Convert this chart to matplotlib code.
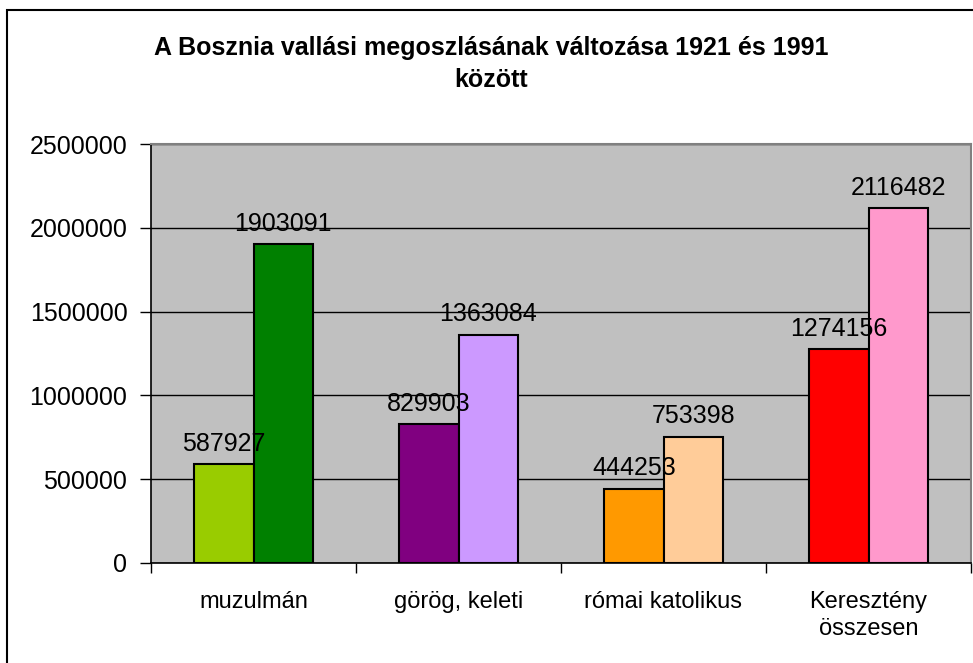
import matplotlib
matplotlib.use('Agg')
import matplotlib.pyplot as plt
from matplotlib.patches import Rectangle
import numpy as np

plt.rcParams['font.family'] = ['Liberation Sans', 'DejaVu Sans']

categories = ['muzulmán', 'görög, keleti', 'római katolikus', 'Keresztény\nösszesen']
values_1921 = [587927, 829903, 444253, 1274156]
values_1991 = [1903091, 1363084, 753398, 2116482]
colors_1921 = ['#99CC00', '#800080', '#FF9900', '#FF0000']
colors_1991 = ['#008000', '#CC99FF', '#FFCC99', '#FF99CC']
title = 'A Bosznia vallási megoszlásának változása 1921 és 1991\nközött'

fig = plt.figure(figsize=(9.73, 6.63), dpi=100)
ax = fig.add_axes([151 / 973, 1 - 563 / 663, (971 - 151) / 973, (563 - 144) / 663])
ax.set_facecolor('#C0C0C0')

x = np.arange(len(categories))
w = 0.29
b1 = ax.bar(x - w / 2, values_1921, w, color=colors_1921, edgecolor='black',
            linewidth=1.5, zorder=3)
b2 = ax.bar(x + w / 2, values_1991, w, color=colors_1991, edgecolor='black',
            linewidth=1.5, zorder=3)

# value labels above each bar
for bars, vals in ((b1, values_1921), (b2, values_1991)):
    for r, v in zip(bars, vals):
        ax.annotate('%d' % v, (r.get_x() + r.get_width() / 2, v),
                    xytext=(0, 6), textcoords='offset points',
                    ha='center', va='bottom', fontsize=18, zorder=4)

ax.set_xlim(-0.5, len(categories) - 0.5)
ax.set_ylim(0, 2500000)
ax.set_yticks(np.arange(0, 2500001, 500000))
ax.set_yticklabels(['%d' % v for v in np.arange(0, 2500001, 500000)], fontsize=18)
ax.yaxis.grid(True, color='black', linewidth=1.0, zorder=1)
ax.set_axisbelow(True)

ax.set_xticks(x)
ax.set_xticklabels(categories, fontsize=17, va='top', linespacing=1.3)
ax.tick_params(axis='x', which='major', length=0, pad=20)
ax.set_xticks(np.arange(-0.5, len(categories)), minor=True)
ax.tick_params(axis='x', which='minor', length=7, width=1, direction='out')
ax.tick_params(axis='y', length=8, width=1, direction='out', pad=9)

for s in ('top', 'right'):
    ax.spines[s].set_color('#808080')
    ax.spines[s].set_linewidth(1.5)
for s in ('left', 'bottom'):
    ax.spines[s].set_color('black')
    ax.spines[s].set_linewidth(1.2)

fig.text(0.505, 1 - 64 / 663, title, ha='center', va='center', fontsize=18,
         fontweight='bold', linespacing=1.4)

# chart-area frame (extends past right/bottom edge as in the reference)
fig.patches.append(Rectangle((7 / 973, -0.05), 1.1, 1 - 10 / 663 + 0.05,
                             transform=fig.transFigure, fill=False,
                             edgecolor='black', linewidth=1.5))

fig.savefig('out.png', dpi=100)
